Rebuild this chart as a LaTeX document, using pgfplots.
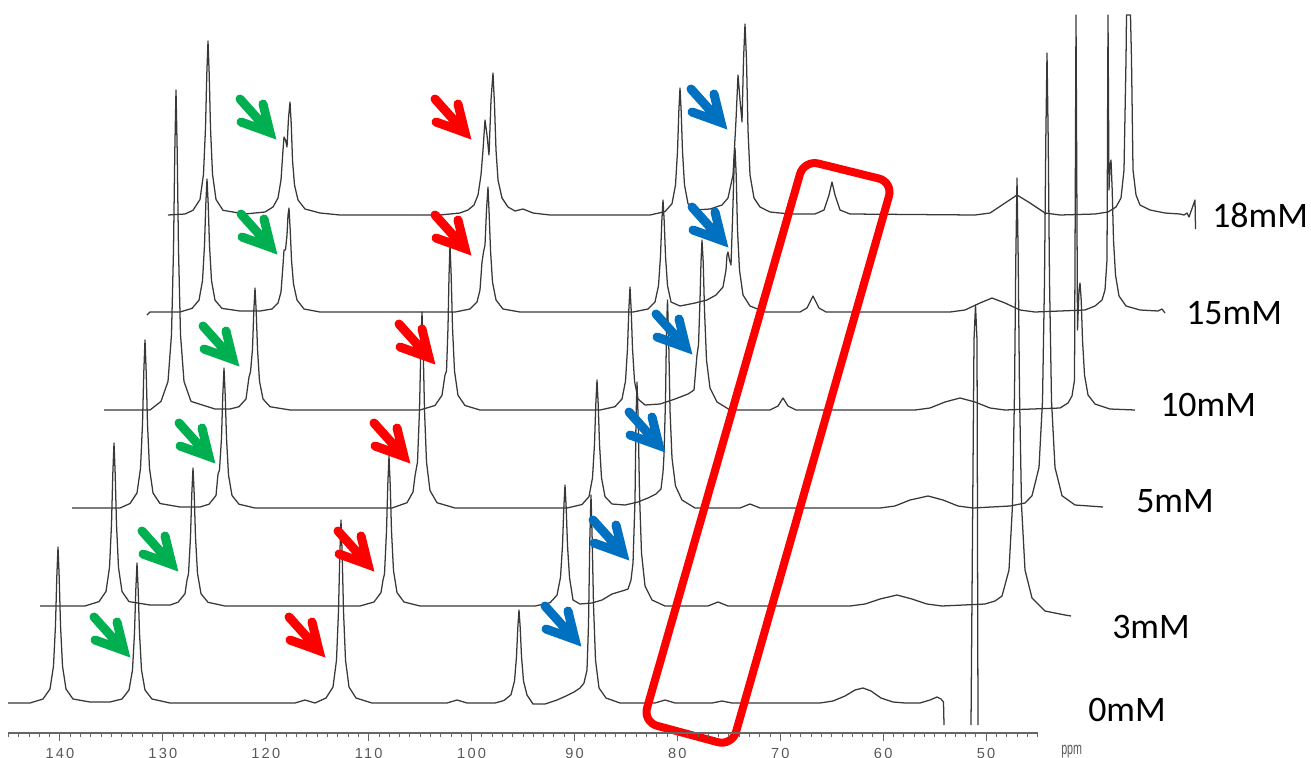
\documentclass[border=0pt]{standalone}
\usepackage{graphicx}
\usepackage{fontspec}
\setmainfont{Carlito}
\newfontfamily\tickfont[LetterSpace=15]{Liberation Sans}
\newfontfamily\ppmfont{Liberation Sans}
\usepackage{pgfplots}
\pgfplotsset{compat=1.18}
\definecolor{ogreen}{RGB}{0,176,80}
\definecolor{oblue}{RGB}{0,112,192}
\definecolor{ored}{RGB}{255,0,0}
\tikzset{
  spec/.style={black!78, line width=0.95bp, line join=round, mark=none},
  arr/.style={line width=6.75bp, line cap=round, line join=miter},
}
\newcommand{\narrow}[3]{\draw[arr,#1,shift={(axis cs:#2,#3)}] (-25.5bp,28.5bp) -- (-3bp,3.4bp) (-8.25bp,24.75bp) -- (-3bp,3.4bp) -- (-24.75bp,11.25bp);}
\begin{document}
\begin{tikzpicture}
\begin{axis}[
  at={(0,0)}, anchor=south west,
  scale only axis, width=983.25bp, height=568.5bp,
  xmin=0, xmax=1311, ymin=0, ymax=758, y dir=reverse,
  hide axis, clip=false,
]
% 0mM
\addplot[spec] coordinates {(8,703) (30,703) (43,699) (50,689) (53.5,666) (55.5,625) (56.8,577) (58,547) (59.2,577) (60.5,625) (62.5,666) (66,689) (73,699) (90,702) (110,702) (122,699) (129,690) (132.5,670) (134.5,633) (135.8,590) (137,563) (138.2,590) (139.5,633) (141.5,670) (145,690) (152,699) (170,703) (295,703) (305,700) (315,703) (326,698) (333,687) (336.5,660) (338.5,611) (339.8,555) (341,520) (342.2,555) (343.5,611) (345.5,660) (349,687) (356,698) (372,703) (447,703) (457,700) (467,703) (495,703) (504,700.5) (511,694.7) (514.5,681) (516.5,656.5) (517.8,627.7) (519,610) (520.2,627.7) (521.5,656.5) (523.5,681) (527,695) (533,704) (545,704) (557,700) (566,696) (574,692) (580,688) (584,683) (587,670) (588.5,625) (589.8,540) (591,495) (592.2,540) (593.5,605) (595.5,660) (599,688) (606,698) (620,703) (655,703) (665,700) (675,703) (712,703) (722,701) (732,703) (820,703) (833,701) (845,696) (855,690) (863,688) (871,691) (881,698) (893,702) (905,703) (920,703) (930,700) (937,697) (941,699) (943.5,702) (944,725)};
\addplot[spec] coordinates {(971,725) (974,340) (975.5,305) (977,340) (978,725)};
% 3mM
\addplot[spec] coordinates {(40,606) (85,606) (99,601.6) (106,591.5) (109.5,567.5) (111.5,524.5) (112.8,474) (114,443) (115.2,474) (116.5,524.5) (118.5,567.5) (122,591.5) (129,601.6) (150,605) (170,605) (178,602.3) (185,593.7) (187,580) (188.5,574) (190.5,537) (191.8,494) (193,468) (194.2,494) (195.5,537) (197.5,573.4) (201,593.7) (208,602.3) (225,606) (360,606) (374,602) (381,592.6) (383,580) (384.5,574) (386.5,531) (387.8,484.5) (389,456) (390.2,484.5) (391.5,531) (393.5,570.6) (397,592.6) (404,602) (420,606) (535,606) (550,602.7) (557,595.2) (560.5,577.4) (562.5,545.5) (563.8,508) (565,485) (566.2,508) (567.5,545.5) (569.5,577.4) (573,600) (580,604) (592,603) (602,600) (612,594) (622,591) (628,589) (631,580) (633,563) (635,500) (636,420) (637,382) (638.2,420) (639.5,494) (641.5,553) (645,586) (652,600) (665,606) (708,606) (718,602) (728,606) (850,606) (865,604) (880,599) (897,595) (912,599) (927,604) (942,606) (985,604) (995,601) (1002,596) (1009,570) (1012.5,505) (1014.5,392) (1015.8,259) (1017,178) (1018.2,259) (1019.5,392) (1021.5,505) (1025,570) (1032,598) (1045,611) (1065,615) (1071,616)};
% 5mM
\addplot[spec] coordinates {(72,508) (120,508) (130,503.5) (137,493) (140.5,468.4) (142.5,424) (143.8,372) (145,340) (146.2,372) (147.5,424) (149.5,468.4) (153,493) (160,503.5) (180,507) (200,507) (209,504.2) (216,495.5) (218,474) (219.5,470) (221.5,438) (222.8,395) (224,368) (225.2,395) (226.5,438) (228.5,475) (232,495.5) (239,504.2) (255,508) (392,508) (407,502.7) (413,492) (415,476) (417.5,462) (419.5,410) (420.8,349) (422,312) (423.2,349) (424.5,410) (426.5,462) (430,490.6) (437,502.7) (455,508) (567,508) (582,504.5) (589,496.6) (592.5,477.8) (594.5,444) (595.8,404.3) (597,380) (598.2,404.3) (599.5,444) (601.5,477.8) (605,496.6) (612,504) (625,505) (638,502) (648,498) (656,494) (661,489) (663,472) (664,455) (665.5,400) (666.5,330) (667.5,300) (668.7,340) (670,410) (672,458) (675.5,486) (682,500) (695,508) (740,508) (750,504) (760,508) (880,508) (895,506) (910,500) (928,496) (943,500) (958,506) (973,508) (1010,506) (1025,503) (1032,495.7) (1039,467.5) (1042.5,400.6) (1044.5,280.5) (1045.8,139.4) (1047,53) (1048.2,139.4) (1049.5,280.5) (1051.5,400.6) (1055,467.5) (1062,495.7) (1075,505) (1103,507)};
% 10mM
\addplot[spec] coordinates {(104,410) (150,410) (161,401.4) (168,381.5) (171.5,334.5) (173.5,250) (174.8,151) (176,90) (177.2,151) (178.5,250) (180.5,334.5) (184,381.5) (191,401.4) (215,409) (230,409) (239,406.7) (246,399) (249,377) (250.5,372) (252.5,349) (253.8,311) (255,288) (256.2,311) (257.5,349) (259.5,381.2) (263,399) (270,406.7) (290,410) (420,410) (435,405.5) (442,395.3) (445,375) (446.5,371) (448,327.5) (449,276) (450,245) (451.2,276) (452.5,327.5) (454.5,371) (458,395.3) (465,405.5) (480,410) (600,410) (615,406.7) (622,399) (625.5,381) (627.5,348.5) (628.8,310.4) (630,287) (631.2,310.4) (632.5,348.5) (634.5,381) (638,399) (645,405) (660,404) (675,399) (688,394) (694,390) (697,355) (698.5,345) (700,300) (701,262) (702,240) (703.2,262) (704.5,310) (706.5,360) (710,388) (717,402) (730,410) (770,410) (778,406) (783,398) (788,406) (796,410) (915,410) (930,408) (945,402) (960,398) (975,402) (990,408) (1005,410) (1060,408) (1068,403) (1072,396) (1074.5,380) (1076,15) (1077.5,330) (1079,290) (1080,283) (1081.2,300) (1082.5,340) (1084.5,375) (1088,395) (1095,404) (1110,409) (1135,410)};
% 15mM
\addplot[spec] coordinates {(147,315) (150,312) (180,312) (192,308.4) (199,300.2) (202.5,280.6) (204.5,245.5) (205.8,204.3) (207,179) (208.2,204.3) (209.5,245.5) (211.5,280.6) (215,300.2) (222,308.4) (240,311) (260,311) (272,309) (278,303) (281,292) (283,265) (284,250) (285.5,250) (287,235) (288,215) (289,208) (290.2,230) (291.5,260) (293.5,284) (297,300) (304,309) (320,312) (455,312) (470,309) (477,302) (480,290) (482,262) (483.5,252) (485,245) (486.5,210) (488,187) (489.2,215) (490.5,250) (492.5,282) (496,300) (503,309) (520,312) (633,312) (648,309) (655,302) (658.5,285.6) (660.5,256) (661.8,221.3) (663,200) (664.2,221.3) (665.5,256) (667.5,285.6) (671,302) (680,306) (695,303) (707,300) (716,295) (723,287) (726,270) (727,255) (728,252) (729.5,260) (731,265) (732.5,220) (734,170) (735,148) (736.2,175) (737.5,230) (739.5,270) (743,295) (750,306) (765,312) (800,312) (807,308) (813,296) (819,308) (826,312) (950,312) (965,310) (980,303) (992,298) (1005,303) (1020,310) (1035,312) (1085,310) (1095,306) (1102,300) (1105,290) (1107,260) (1108,15) (1109,190) (1110,165) (1111,160) (1112.2,190) (1113.5,240) (1115.5,275) (1119,296) (1126,306) (1140,310) (1158,311) (1162,309) (1165,313)};
% 18mM
\addplot[spec] coordinates {(168,215) (185,214) (193,210.3) (200,199.5) (203.5,174) (205.5,128) (206.8,74) (208,41) (209.2,74) (210.5,128) (212.5,174) (216,199.5) (223,210.3) (245,214) (265,212) (273,207) (278,198) (281,180) (283,150) (284,137) (285.5,140) (287,147) (288.5,118) (290,102) (291.3,125) (292.5,160) (294.5,185) (298,200) (305,209) (320,213) (340,215) (440,215) (460,213) (468,210) (474,205) (478,195) (481,175) (483,150) (485,120) (487,135) (489,155) (491,100) (493,73) (494.5,105) (496,150) (498,180) (502,198) (508,207) (515,211) (523,209) (533,213) (550,215) (650,215) (665,211.6) (672,203.7) (675.5,185) (677.5,151.5) (678.8,112) (680,88) (681.2,112) (682.5,151.5) (684.5,185) (688,203.7) (695,210) (710,209) (722,205) (728,198) (733,175) (736,120) (738,75) (740,100) (742,122) (743.5,60) (745,24) (746.5,60) (748,130) (750,175) (754,198) (760,207) (770,212) (790,214) (815,214) (824,210) (829,195) (832,182) (835,195) (840,210) (850,214) (975,215) (990,213) (1005,203) (1017,195) (1030,203) (1045,213) (1060,215) (1095,214) (1108,212) (1116,207) (1121,198) (1124,170) (1126,60) (1126.5,15) (1130.5,15) (1131.5,60) (1133,170) (1136,195) (1140,205) (1150,210) (1165,213) (1180,214) (1184,215) (1187,213) (1189,217) (1195,200) (1195.5,229)};
% annotations
\draw[ored, line width=6bp, rounded corners=11bp] (axis cs:804,160) -- (axis cs:893,182) -- (axis cs:732,746) -- (axis cs:643,722) -- cycle;
\narrow{ogreen}{274}{137}
\narrow{ogreen}{275}{252}
\narrow{ogreen}{237}{364}
\narrow{ogreen}{213}{461}
\narrow{ogreen}{176}{569}
\narrow{ogreen}{128}{655}
\narrow{ored}{469}{137}
\narrow{ored}{469}{253}
\narrow{ored}{433}{362}
\narrow{ored}{408}{461}
\narrow{ored}{372}{569}
\narrow{ored}{323}{655}
\narrow{oblue}{725}{127}
\narrow{oblue}{726}{245}
\narrow{oblue}{690}{352}
\narrow{oblue}{663}{450}
\narrow{oblue}{627}{558}
\narrow{oblue}{579}{644}
\node[anchor=west, font=\fontsize{27}{30}\selectfont, inner sep=0pt] at (axis cs:1212,215) {18mM};
\node[anchor=west, font=\fontsize{27}{30}\selectfont, inner sep=0pt] at (axis cs:1186,313) {15mM};
\node[anchor=west, font=\fontsize{27}{30}\selectfont, inner sep=0pt] at (axis cs:1160,405) {10mM};
\node[anchor=west, font=\fontsize{27}{30}\selectfont, inner sep=0pt] at (axis cs:1136,501) {5mM};
\node[anchor=west, font=\fontsize{27}{30}\selectfont, inner sep=0pt] at (axis cs:1112,627) {3mM};
\node[anchor=west, font=\fontsize{27}{30}\selectfont, inner sep=0pt] at (axis cs:1088,710) {0mM};
\node[anchor=north west, inner sep=0pt, text=black!65] at (axis cs:1061,745) {\scalebox{0.62}[1]{\ppmfont\fontsize{13}{14}\selectfont ppm}};
\end{axis}
\begin{axis}[
  at={(6bp,18.75bp)}, anchor=south west, scale only axis,
  width=772.5bp, height=10bp,
  xmin=44.96, xmax=145.05, x dir=reverse, ymin=0, ymax=1,
  axis x line=bottom, axis y line=none,
  axis line style={-, black!60, line width=0.8bp},
  xtick={50,60,...,140}, minor xtick={45,46,...,145},
  tick align=outside, major tick length=6bp, minor tick length=3bp,
  every tick/.style={black!60, line width=0.7bp},
  /pgf/number format/assume math mode=true,
  xticklabel style={font=\tickfont\fontsize{11}{12}\selectfont, text=black!65, inner sep=0pt, yshift=-5bp},
]
\addplot[draw=none] coordinates {(100,0.5)};
\end{axis}
\pgfresetboundingbox
\path (0,0) rectangle (983.25bp,568.5bp);
\end{tikzpicture}
\end{document}
